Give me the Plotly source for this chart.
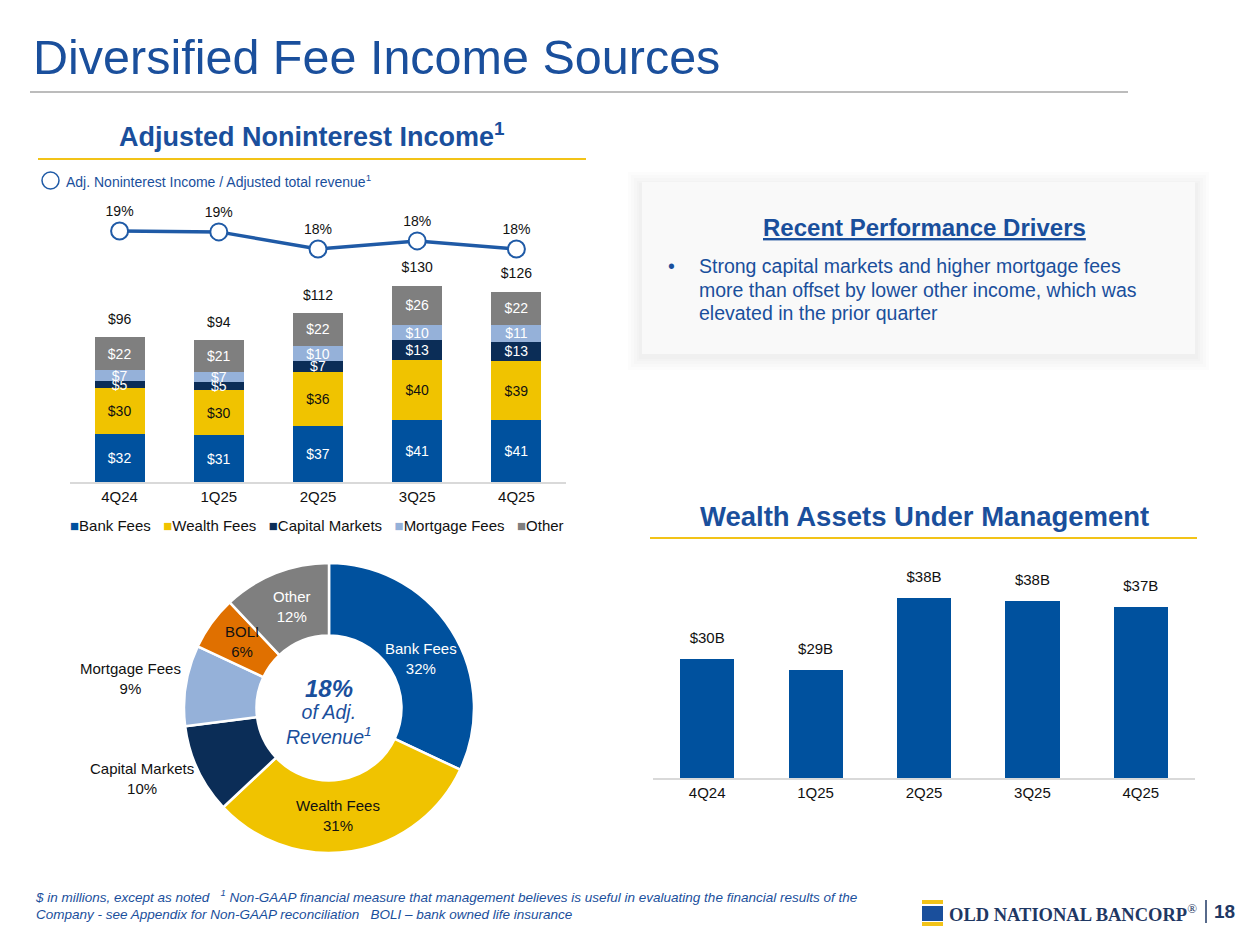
import plotly.graph_objects as go

# page is rendered with an 8px body margin; figure sized to fit inside it
OFF = 8
FW, FH = 1250 - 2 * OFF, 938 - 2 * OFF
def X(px): return (px - OFF) / FW
def Y(py): return 1 - (py - OFF) / FH

# ---------------- data ----------------
quarters = ["4Q24", "1Q25", "2Q25", "3Q25", "4Q25"]
bank_fees = [32, 31, 37, 41, 41]
wealth_fees = [30, 30, 36, 40, 39]
capital_markets = [5, 5, 7, 13, 13]
mortgage_fees = [7, 7, 10, 10, 11]
other_income = [22, 21, 22, 26, 22]
ratio_values = [18.9, 18.85, 17.9, 18.35, 17.9]
ratio_labels = ["19%", "19%", "18%", "18%", "18%"]

mix_labels = ["Bank Fees", "Wealth Fees", "Capital Markets", "Mortgage Fees", "BOLI", "Other"]
mix_values = [32, 31, 10, 9, 6, 12]

aum_values = [30.0, 28.6, 38.0, 37.6, 36.8]
aum_labels = ["$30B", "$29B", "$38B", "$38B", "$37B"]

driver_lines = ["Strong capital markets and higher mortgage fees",
                "more than offset by lower other income, which was",
                "elevated in the prior quarter"]

# ---------------- styles ----------------
FONT = "Liberation Sans, Arial, sans-serif"
BLUE_T = "#1A4F9C"
C_BANK = "#00519E"
C_WEALTH = "#F0C300"
C_CAP = "#0B2D57"
C_MORT = "#95B1D9"
C_OTHER = "#7F7F7F"
C_BOLI = "#E07000"
GOLD = "#F2C318"
INK = "#111111"

fig = go.Figure()

series = [
    ("Bank Fees", bank_fees, C_BANK, "white"),
    ("Wealth Fees", wealth_fees, C_WEALTH, INK),
    ("Capital Markets", capital_markets, C_CAP, "white"),
    ("Mortgage Fees", mortgage_fees, C_MORT, "white"),
    ("Other", other_income, C_OTHER, "white"),
]
for name, vals, col, tcol in series:
    fig.add_trace(go.Bar(
        x=quarters, y=vals, name=name, marker=dict(color=col, line=dict(width=0)),
        text=[f"${v}" for v in vals], textposition="inside", insidetextanchor="middle",
        textangle=0, constraintext="none",
        textfont=dict(color=tcol, size=14, family=FONT),
        xaxis="x", yaxis="y", showlegend=False, hoverinfo="skip"))

totals = [a + b + c + d + e for a, b, c, d, e in
          zip(bank_fees, wealth_fees, capital_markets, mortgage_fees, other_income)]
fig.add_trace(go.Scatter(
    x=quarters, y=totals, mode="markers+text", text=[f"${t}" for t in totals],
    marker=dict(size=14, opacity=0), cliponaxis=False,
    textposition="top center", textfont=dict(color=INK, size=14, family=FONT),
    xaxis="x", yaxis="y", showlegend=False, hoverinfo="skip"))

fig.add_trace(go.Scatter(
    x=quarters, y=ratio_values, mode="lines+markers+text", text=ratio_labels,
    textposition="top center", textfont=dict(color=INK, size=14, family=FONT),
    line=dict(color="#1F5AA6", width=3.5), cliponaxis=False,
    marker=dict(size=17, color="white", line=dict(color="#1F5AA6", width=2)),
    xaxis="x", yaxis="y2", showlegend=False, hoverinfo="skip"))

# ---------------- donut ----------------
fig.add_trace(go.Pie(
    labels=mix_labels, values=mix_values, sort=False, direction="clockwise", rotation=0,
    hole=0.5, marker=dict(colors=[C_BANK, C_WEALTH, C_CAP, C_MORT, C_BOLI, C_OTHER],
                          line=dict(color="white", width=2.5)),
    textinfo="none", domain=dict(x=[X(184), X(474)], y=[Y(853), Y(563)]),
    showlegend=False, hoverinfo="skip"))

# ---------------- AUM bars ----------------
fig.add_trace(go.Bar(
    x=quarters, y=aum_values, marker=dict(color=C_BANK, line=dict(width=0)),
    width=0.5, xaxis="x3", yaxis="y3", showlegend=False, hoverinfo="skip"))
fig.add_trace(go.Scatter(
    x=quarters, y=aum_values, mode="markers+text", text=aum_labels,
    marker=dict(size=18, opacity=0), textposition="top center", cliponaxis=False,
    textfont=dict(color=INK, size=15, family=FONT),
    xaxis="x3", yaxis="y3", showlegend=False, hoverinfo="skip"))

# ---------------- axes ----------------
bar_px_per_unit = 1.51
fig.update_layout(
    width=FW, height=FH, margin=dict(l=0, r=0, t=0, b=0),
    paper_bgcolor="white", plot_bgcolor="rgba(0,0,0,0)",
    font=dict(family=FONT, color=INK),
    barmode="stack", bargap=0.495,
    uniformtext=dict(minsize=14, mode="show"),
    xaxis=dict(domain=[X(70), X(566)], anchor="y", showgrid=False, zeroline=False,
               showline=True, linecolor="#D9D9D9", linewidth=1.5, ticks="",
               tickfont=dict(size=15, color=INK), range=[-0.5, 4.5], fixedrange=True),
    yaxis=dict(domain=[Y(482), Y(270)], range=[0, (482 - 270) / bar_px_per_unit],
               visible=False, fixedrange=True),
    yaxis2=dict(domain=[Y(270), Y(190)], anchor="x",
                range=[17.9 - (270 - 249) / 18, 18.9 + (231 - 190) / 18],
                visible=False, fixedrange=True),
    xaxis3=dict(domain=[X(653), X(1195)], anchor="y3", showgrid=False, zeroline=False,
                showline=True, linecolor="#D9D9D9", linewidth=1.5, ticks="",
                tickfont=dict(size=15, color=INK), range=[-0.5, 4.5], fixedrange=True),
    yaxis3=dict(domain=[Y(778), Y(560)], range=[14.4, 14.4 + (778 - 560) / 7.63],
                visible=False, fixedrange=True),
)

# ---------------- shapes ----------------
def R(x0, y0, x1, y1, **kw):
    return dict(type="rect", xref="paper", yref="paper", x0=X(x0), x1=X(x1), y0=Y(y1), y1=Y(y0), **kw)
def L(x0, y0, x1, y1, color, width):
    return dict(type="line", xref="paper", yref="paper", x0=X(x0), x1=X(x1), y0=Y(y0), y1=Y(y1),
                line=dict(color=color, width=width))

shapes = [
    L(30, 92, 1128, 92, "#A6A6A6", 1.5),
    L(38, 159, 586, 159, GOLD, 2),
    L(650, 538, 1197, 538, GOLD, 2),
]
# soft panel shadow
for d in [14, 11, 8, 5, 3]:
    shapes.append(R(642 - d, 182 - d + 4, 1195 + d, 354 + d + 2,
                    fillcolor="rgba(0,0,0,0.011)", line=dict(width=0), layer="below"))
shapes.append(R(642, 182, 1195, 354, fillcolor="#F9F9F9", line=dict(width=0), layer="below"))
# legend circle for the ratio line
shapes.append(dict(type="circle", xref="paper", yref="paper", x0=X(42), x1=X(59), y0=Y(189), y1=Y(172),
                   line=dict(color="#1F5AA6", width=1.5), fillcolor="white"))
# logo
shapes += [
    R(922, 900, 943, 904, fillcolor=GOLD, line=dict(width=0)),
    R(922, 906, 943, 921, fillcolor="#1A4F9C", line=dict(width=0)),
    R(922, 922, 943, 926, fillcolor=GOLD, line=dict(width=0)),
    L(1206, 900, 1206, 923, "#1F3864", 1.5),
]
fig.update_layout(shapes=shapes)

# ---------------- annotations ----------------
ann = []
def A(text, px, py, size, color=INK, xanchor="center", align="center", family=FONT):
    ann.append(dict(text=text, x=X(px), y=Y(py), xref="paper", yref="paper", showarrow=False,
                    xanchor=xanchor, yanchor="middle", align=align,
                    font=dict(size=size, color=color, family=family)))

A("Diversified Fee Income Sources", 31, 57, 48.5, BLUE_T, xanchor="left", align="left")
A("<b>Adjusted Noninterest Income<sup>1</sup></b>", 312, 135, 27, BLUE_T)
A("Adj. Noninterest Income / Adjusted total revenue<sup>1</sup>", 64, 181, 14, BLUE_T,
  xanchor="left", align="left")
legend_html = "&nbsp;&nbsp;&nbsp;".join(
    f"<span style='color:{c}'>■</span>{n}" for n, _, c, _ in series)
A(legend_html, 317, 525, 15)

A("<b><u>Recent Performance Drivers</u></b>", 924, 228, 24, BLUE_T)
A("•", 666, 266, 19.5, BLUE_T, xanchor="left", align="left")
for i, line in enumerate(driver_lines):
    A(line, 697, 266 + i * 23.5, 19.5, BLUE_T, xanchor="left", align="left")

A("<b>Wealth Assets Under Management</b>", 924, 516, 27.5, BLUE_T)

# donut labels
pie_label_pos = [(421, 658, "white"), (338, 815, INK), (142, 778, INK),
                 (130, 678, INK), (242, 641, INK), (292, 606, "white")]
for lab, val, (px, py, col) in zip(mix_labels, mix_values, pie_label_pos):
    A(f"{lab}<br>{val}%", px, py, 15, col)

A("<b><i>18%</i></b>", 329, 688, 24, BLUE_T)
A("<i>of Adj.<br>Revenue<sup>1</sup></i>", 329, 724, 19.5, BLUE_T)

A("<i>$ in millions, except as noted   <sup>1</sup> Non-GAAP financial measure that management believes is useful in evaluating the financial results of the<br>Company - see Appendix for Non-GAAP reconciliation   BOLI – bank owned life insurance</i>",
  33, 904, 13.5, BLUE_T, xanchor="left", align="left")

A("<b>OLD NATIONAL BANCORP</b><sup style='font-size:7px'>®</sup>", 947, 913, 18.5, "#1F3864",
  xanchor="left", align="left", family="Liberation Serif, Times New Roman, serif")
A("<b>18</b>", 1212, 911, 19, "#1F3864", xanchor="left", align="left")

fig.update_layout(annotations=ann)

fig.write_html("out.html")
